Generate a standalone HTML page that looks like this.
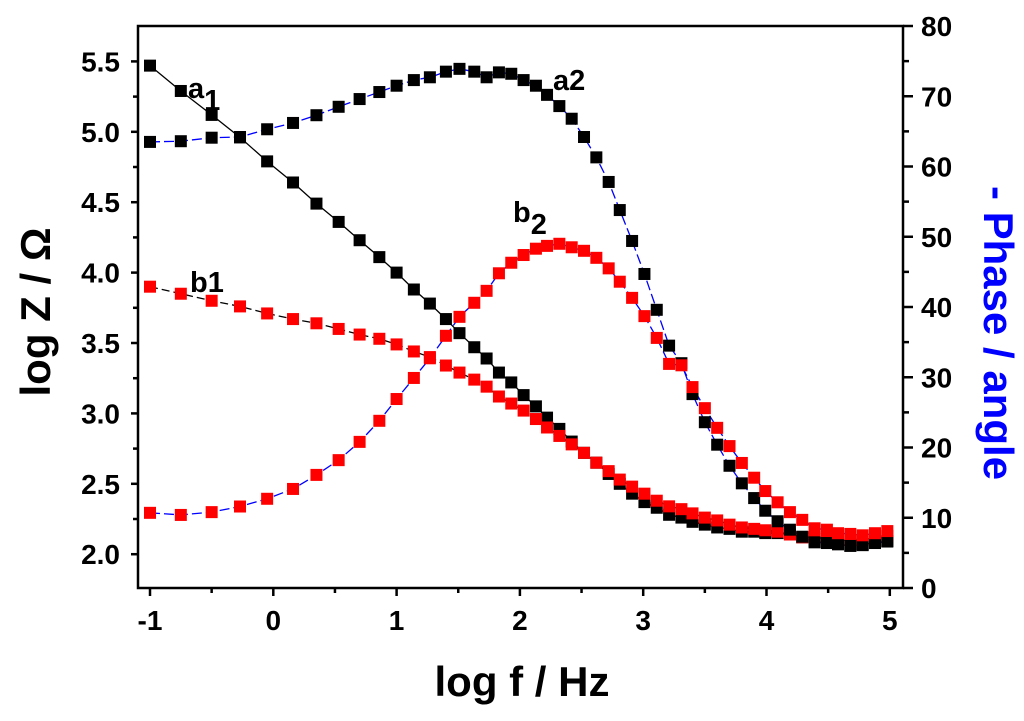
<!DOCTYPE html>
<html><head><meta charset="utf-8"><style>
html,body{margin:0;padding:0;background:#fff;}
svg{display:block;font-family:"Liberation Sans",Arial,sans-serif;}
</style></head><body>
<svg id="chart" width="1024" height="721" viewBox="0 0 1024 721" xmlns="http://www.w3.org/2000/svg">
<g id="axes"></g>
<g id="lines"></g>
<g id="marks"></g>
<g id="labels">
<text x="188" y="98" font-size="29" font-weight="bold">a<tspan font-size="29" dy="12">1</tspan></text>
<text x="553" y="90" font-size="29" font-weight="bold">a2</text>
<text x="190" y="292" font-size="29" font-weight="bold">b1</text>
<text x="513" y="222" font-size="29" font-weight="bold">b<tspan font-size="29" dy="12">2</tspan></text>
<text x="522" y="696" font-size="42" font-weight="bold" text-anchor="middle">log f / Hz</text>
<text transform="translate(50,312) rotate(-90)" font-size="42" font-weight="bold" text-anchor="middle">log Z / Ω</text>
<text transform="translate(984,333) rotate(90)" font-size="42" font-weight="bold" text-anchor="middle" fill="#0000ff">- Phase / angle</text>
</g>
</svg>
<script>
const logF = [-1,-0.75,-0.5,-0.27,-0.05,0.16,0.35,0.53,0.70,0.86,1.0,1.14,1.27,1.40,1.51,1.63,
1.73,1.83,1.93,2.03,2.13,2.22,2.32,2.42,2.52,2.62,2.72,2.81,2.91,3.01,3.11,3.21,3.31,3.40,3.50,3.60,3.70,3.80,3.90,3.99,4.09,4.19,4.29,4.39,4.49,4.58,4.68,4.78,4.88,4.98];
const a1LogZ = [5.47,5.29,5.12,4.96,4.79,4.64,4.49,4.36,4.23,4.11,4.0,3.88,3.78,3.67,3.57,3.47,
3.39,3.29,3.22,3.13,3.05,2.97,2.89,2.80,2.72,2.65,2.57,2.50,2.43,2.37,2.33,2.28,2.26,2.23,2.21,2.19,2.18,2.16,2.16,2.15,2.15,2.14,2.12,2.09,2.08,2.07,2.06,2.07,2.08,2.09];
const b1LogZ = [3.90,3.85,3.80,3.76,3.71,3.67,3.64,3.60,3.56,3.53,3.49,3.44,3.40,3.34,3.29,3.24,
3.19,3.12,3.07,3.02,2.96,2.90,2.84,2.78,2.72,2.65,2.59,2.53,2.48,2.43,2.38,2.34,2.32,2.29,2.26,2.24,2.21,2.19,2.18,2.17,2.16,2.14,2.12,2.12,2.11,2.10,2.10,2.10,2.12,2.13];
const a2Phase = [63.5,63.6,64.1,64.2,65.3,66.2,67.3,68.5,69.6,70.6,71.5,72.3,72.7,73.5,73.9,73.5,
72.7,73.4,73.2,72.3,71.5,70.2,68.6,66.8,64.2,61.3,57.8,53.8,49.4,44.7,39.6,34.5,32.0,27.6,23.6,20.4,17.4,14.9,12.8,11.0,9.5,8.3,7.3,6.5,6.4,6.3,6.0,6.1,6.4,6.7];
const b2Phase = [10.7,10.4,10.8,11.6,12.7,14.1,16.1,18.2,20.8,23.8,26.9,29.9,32.7,35.9,38.6,40.6,
42.3,44.8,46.3,47.4,48.3,48.7,49.0,48.5,48.0,47.0,45.5,43.6,41.3,38.7,35.6,31.9,31.7,28.6,25.6,22.8,20.2,17.8,15.7,13.8,12.2,10.8,9.7,8.5,8.3,7.8,7.7,7.5,7.8,8.1];
const xTicks = [-1,0,1,2,3,4,5];
const yTicks = [2.0,2.5,3.0,3.5,4.0,4.5,5.0,5.5];
const y2Ticks = [0,10,20,30,40,50,60,70,80];

const NS="http://www.w3.org/2000/svg";
const L=138,R=903,T=26,B=588;
const sx=v=>150+(v+1)*123.3;
const sy=v=>B-(v-1.76)*140.8;
const sy2=v=>B-v*7.025;
function mk(tag,parent,attrs){const e=document.createElementNS(NS,tag);for(const k in attrs)e.setAttribute(k,attrs[k]);parent.appendChild(e);return e;}
const ax=document.getElementById('axes');
let e;
e=mk('rect',ax,{x:L,y:T,width:R-L,height:B-T,fill:'none',stroke:'#000','stroke-width':2.5});


xTicks.forEach((t,i)=>{
  e=mk('line',ax,{x1:sx(t),x2:sx(t),y1:B,y2:B+8,stroke:'#000','stroke-width':2.5});
  
  
  if(i<xTicks.length-1){e=mk('line',ax,{x1:sx(t+0.5),x2:sx(t+0.5),y1:B,y2:B+5,stroke:'#000','stroke-width':2.5});
  
  }
  e=mk('text',ax,{x:sx(t),y:630,'font-size':28,'font-weight':'bold','text-anchor':'middle'});
  e.textContent=String(t);
  
  
});
yTicks.forEach((t,i)=>{
  e=mk('line',ax,{x1:L-7,x2:L,y1:sy(t),y2:sy(t),stroke:'#000','stroke-width':2.5});
  
  
  if(i<yTicks.length-1){e=mk('line',ax,{x1:L-5,x2:L,y1:sy(t+0.25),y2:sy(t+0.25),stroke:'#000','stroke-width':2.5});
  
  }
  e=mk('text',ax,{x:120,y:sy(t)+10,'font-size':28,'font-weight':'bold','text-anchor':'end'});
  e.textContent=t.toFixed(1);
  
  
});
y2Ticks.forEach((t,i)=>{
  e=mk('line',ax,{x1:R,x2:R+10,y1:sy2(t),y2:sy2(t),stroke:'#000','stroke-width':2.5});
  
  
  if(i<y2Ticks.length-1){e=mk('line',ax,{x1:R,x2:R+6,y1:sy2(t+5),y2:sy2(t+5),stroke:'#000','stroke-width':2.5});
  
  }
  e=mk('text',ax,{x:921,y:sy2(t)+10,'font-size':28,'font-weight':'bold'});
  e.textContent=String(t);
  
  
});
const ln=document.getElementById('lines'), mg=document.getElementById('marks');
function series(vals,yf,color,lineColor,dash,name){
  const pts=logF.map((x,i)=>sx(x).toFixed(1)+','+yf(vals[i]).toFixed(1)).join(' ');
  const p=mk('polyline',ln,{points:pts,fill:'none',stroke:lineColor,'stroke-width':1.3,'stroke-dasharray':dash});
  
  
  logF.forEach((x,i)=>{
    const r=mk('rect',mg,{x:sx(x)-6,y:yf(vals[i])-6,width:12,height:12,fill:color});
    
    
  });
}
series(a1LogZ,sy,'#000','#000','none','a1-logz');
series(b1LogZ,sy,'#ff0000','#000','8 4','b1-logz');
series(a2Phase,sy2,'#000','#0000ff','10 4','a2-phase');
series(b2Phase,sy2,'#ff0000','#0000ff','10 4','b2-phase');
</script>
</body></html>
